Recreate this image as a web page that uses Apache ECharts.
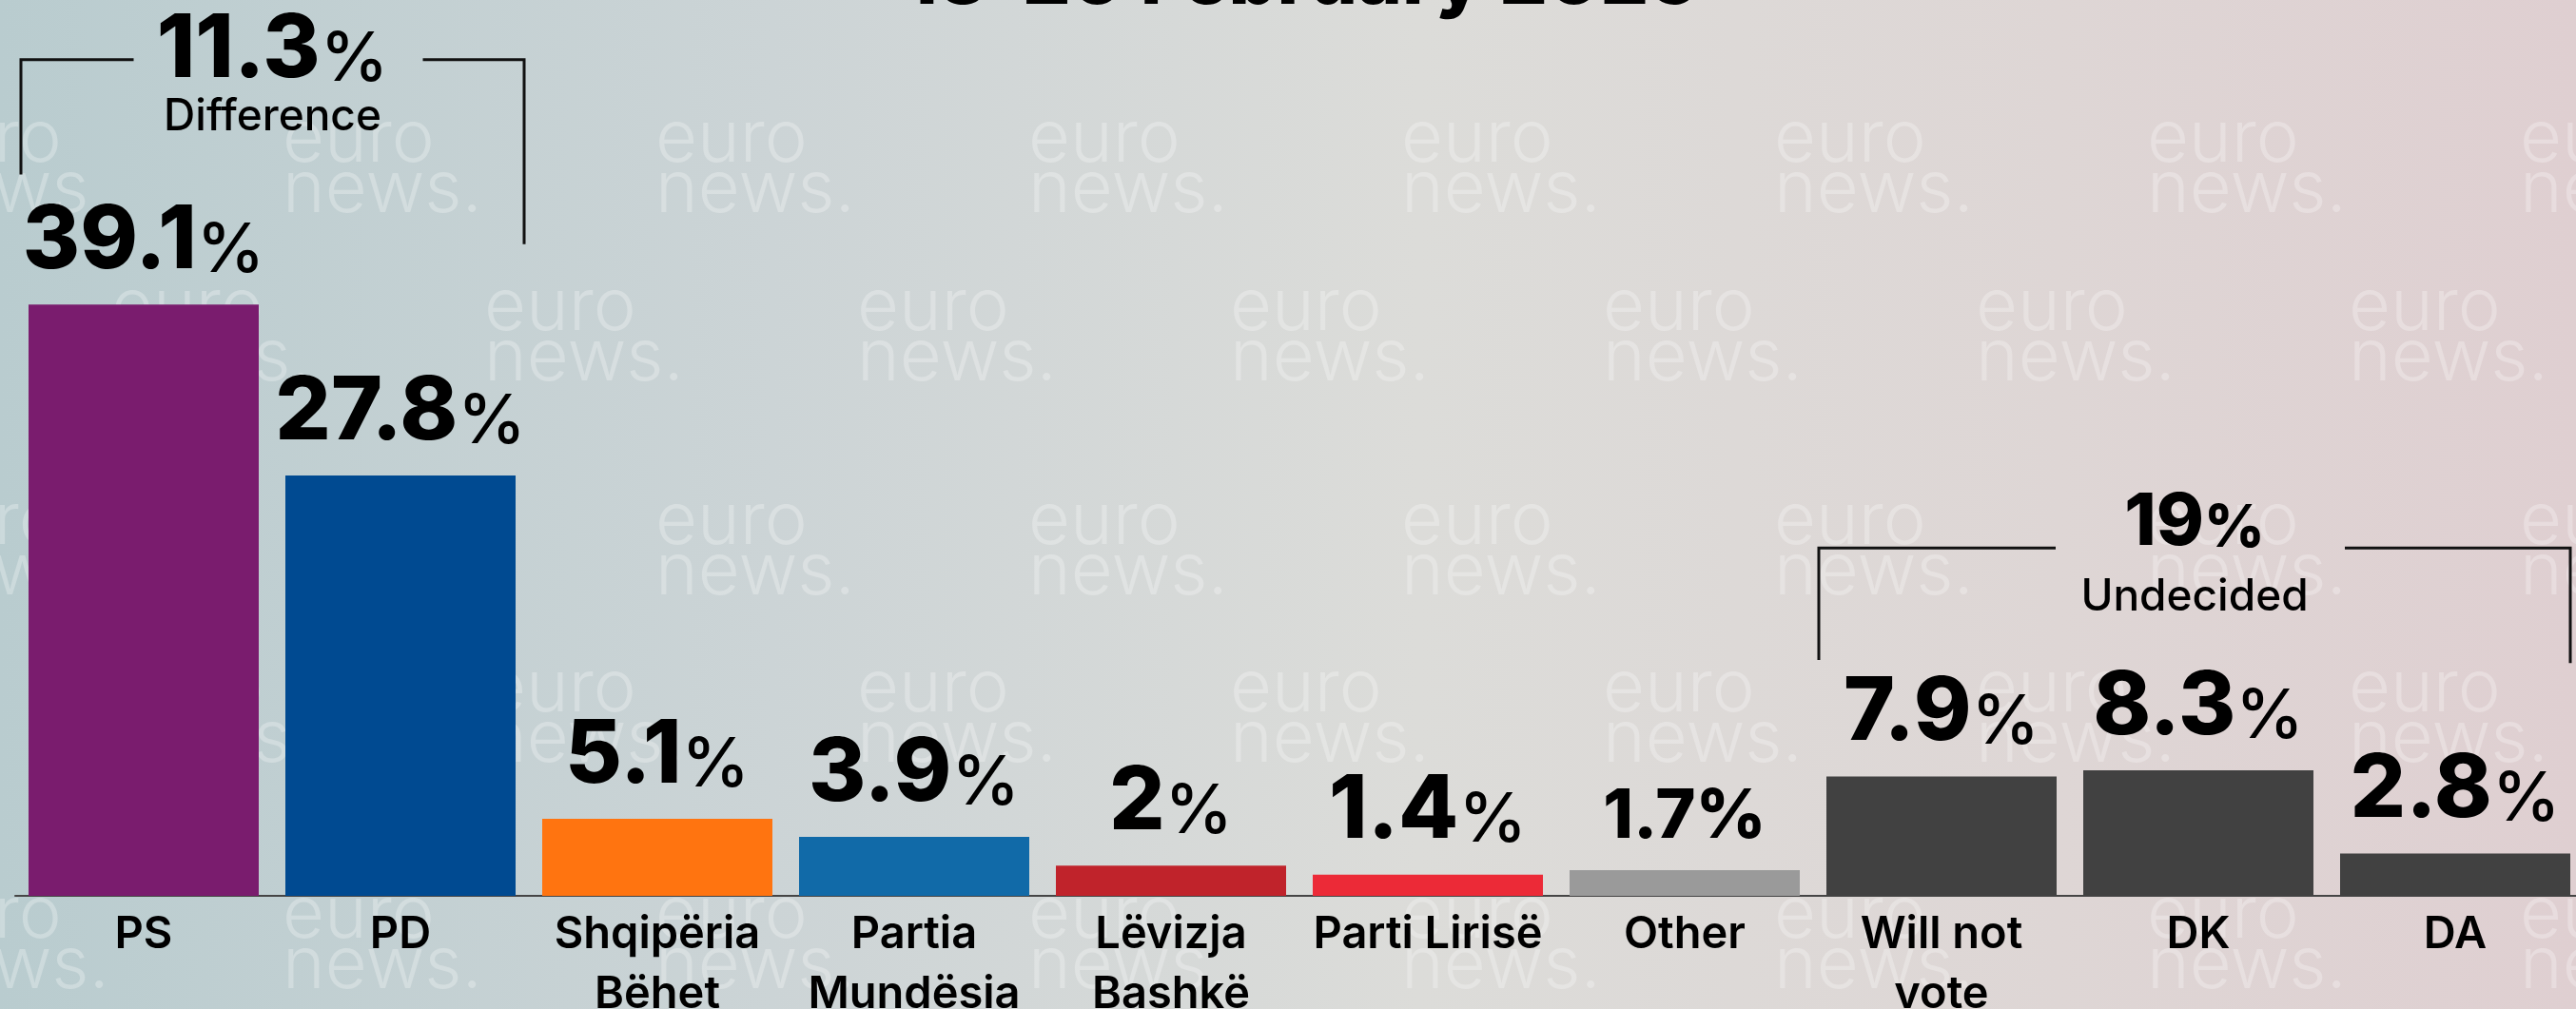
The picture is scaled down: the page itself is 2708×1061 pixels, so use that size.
<!DOCTYPE html>
<html><head><meta charset="utf-8">
<script src="https://cdn.jsdelivr.net/npm/echarts/dist/echarts.min.js"></script>
<style>html,body{margin:0;padding:0;overflow:hidden;}#c{width:2708px;height:1061px;}</style>
</head><body><div id="c"></div>
<script>
// ---- data ----
const categories = ['PS', 'PD', 'Shqipëria\nBëhet', 'Partia\nMundësia', 'Lëvizja\nBashkë', 'Parti Lirisë', 'Other', 'Will not\nvote', 'DK', 'DA'];
const values = [39.1, 27.8, 5.1, 3.9, 2, 1.4, 1.7, 7.9, 8.3, 2.8];
const titleText = '13-20 February 2025';
// bracket annotations (category span, values in % units)
const bracketFrom = [0, 7];
const bracketTo = [1, 9];
const bracketTop = [55.3, 23.0];
const bracketLeftEnd = [47.7, 15.6];
const bracketRightEnd = [43.1, 15.4];
const bracketValue = ['11.3', '19'];
const bracketCaption = ['Difference', 'Undecided'];

// ---- styles ----
const barColors = ['#7a1c6e', '#004a91', '#ff7410', '#116aa8', '#c0232b', '#ec2a37', '#9a9a9a', '#414141', '#414141', '#414141'];
const FONT = 'Inter';
const NUMW = 800;
const bracketValueDy = [22, -1];
const bracketCaptionDy = [77, 69];
const bracketBig = [92, 76];
const bracketPct = [72, 62];

const chart = echarts.init(document.getElementById('c'), null, {renderer: 'canvas'});

const richLabel = {
  a: {fontFamily: FONT, fontWeight: NUMW, fontSize: 92, lineHeight: 92, color: '#000', verticalAlign: 'bottom'},
  b: {fontFamily: FONT, fontWeight: 500, fontSize: 72, lineHeight: 78, color: '#000', verticalAlign: 'bottom'},
  c: {fontFamily: FONT, fontWeight: NUMW, fontSize: 72, lineHeight: 78, color: '#000', verticalAlign: 'bottom'}
};

// watermark tiles (decorative)
const watermarks = [];
const rowBase = [175, 352, 577, 753, 991];
rowBase.forEach((b, r) => {
  const x0 = (r % 2 === 0) ? -95 : 117;
  for (let k = 0; k < 8; k++) {
    const x = x0 + k * 392;
    if (x > 2708) continue;
    watermarks.push({
      type: 'text', z: 0, silent: true,
      x: x, y: b - 54,
      style: {
        text: 'euro\nnews.', font: '300 76px ' + FONT, lineHeight: 53,
        fill: 'rgba(255,255,255,0.28)', textVerticalAlign: 'top', verticalAlign: 'top'
      }
    });
  }
});

const option = {
  backgroundColor: new echarts.graphic.LinearGradient(0, 0, 1, 0, [
    {offset: 0, color: '#b9cccf'},
    {offset: 0.3, color: '#ccd4d6'},
    {offset: 0.55, color: '#dcdcd9'},
    {offset: 0.8, color: '#ded6d5'},
    {offset: 1, color: '#dfcfd1'}
  ]),
  animation: false,
  graphic: watermarks.concat([{
    type: 'text', z: 10, silent: true,
    x: 1368, y: 20,
    style: {
      text: titleText, font: NUMW + ' 80px ' + FONT, fill: '#000',
      textAlign: 'center', align: 'center', textVerticalAlign: 'bottom', verticalAlign: 'bottom'
    }
  }]),
  grid: {left: 16, right: -8, top: 147, bottom: 119, containLabel: false, outerBoundsMode: 'none'},
  xAxis: {
    type: 'category', data: categories,
    axisLine: {show: true, lineStyle: {color: '#454545', width: 2}},
    axisTick: {show: false},
    splitLine: {show: false},
    axisLabel: {
      interval: 0, margin: 9, color: '#000', fontFamily: FONT, fontWeight: 600,
      fontSize: 47, lineHeight: 63
    }
  },
  yAxis: {type: 'value', min: 0, max: 50, show: false, splitLine: {show: false}},
  series: [{
    type: 'bar', z: 3,
    barWidth: 242,
    data: values.map((v, i) => ({value: v, itemStyle: {color: barColors[i]}})),
    label: {
      show: true, position: 'top', distance: 20,
      formatter: p => p.dataIndex === 6 ? '{c|' + p.value + '%}' : '{a|' + p.value + '}{b|%}',
      rich: richLabel
    }
  }, {
    type: 'custom', coordinateSystem: 'cartesian2d', clip: false, silent: true, z: 5,
    data: bracketFrom.map((f, i) => [f, bracketTo[i], bracketTop[i], bracketLeftEnd[i], bracketRightEnd[i]]),
    encode: {x: [0, 1], y: [2, 3, 4]},
    renderItem: function (params, api) {
      const i = params.dataIndex;
      const pTop = api.coord([api.value(0), api.value(2)]);
      const pL = api.coord([api.value(0), api.value(3)]);
      const pR = api.coord([api.value(1), api.value(4)]);
      const half = 121;
      const xl = pTop[0] - half - 8;
      const xr = Math.min(pR[0] + half + 9, api.getWidth() - 6);
      const yTop = pTop[1];
      const cx = (xl + xr) / 2;
      const gc = cx + 6;
      const gapL = gc - 152, gapR = gc + 152;
      const lineStyle = {stroke: '#111', lineWidth: 3, fill: null};
      const big = bracketBig[i], pct = bracketPct[i];
      const valBase = yTop + bracketValueDy[i];
      const capBase = yTop + bracketCaptionDy[i];
      const valBottom = valBase + big * (0.5 - 0.3635) + 2;
      const capBottom = capBase + 46 * (0.5 - 0.3635);
      const pctLh = 2 * (big / 2 - big * 0.3635 + pct * 0.3635);
      return {
        type: 'group',
        children: [
          {type: 'polyline', shape: {points: [[xl, pL[1]], [xl, yTop], [gapL, yTop]]}, style: lineStyle},
          {type: 'polyline', shape: {points: [[gapR, yTop], [xr, yTop], [xr, pR[1]]]}, style: lineStyle},
          {type: 'text', x: cx, y: valBottom, style: {
            text: '{a|' + bracketValue[i] + '}{b|%}',
            align: 'center', verticalAlign: 'bottom',
            rich: {
              a: {fontFamily: FONT, fontWeight: NUMW, fontSize: big, lineHeight: big, fill: '#000', verticalAlign: 'bottom'},
              b: {fontFamily: FONT, fontWeight: i === 0 ? 500 : NUMW, fontSize: pct, lineHeight: pctLh, fill: '#000', verticalAlign: 'bottom'}
            }
          }},
          {type: 'text', x: cx, y: capBottom, style: {
            text: bracketCaption[i], fontFamily: FONT, fontWeight: 500, fontSize: 46, lineHeight: 46,
            fill: '#000', align: 'center', verticalAlign: 'bottom'
          }}
        ]
      };
    }
  }]
};
chart.setOption(option);
</script>
</body></html>
